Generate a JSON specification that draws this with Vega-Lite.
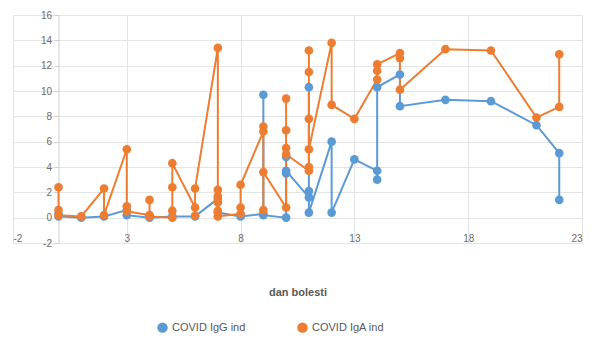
{
  "$schema": "https://vega.github.io/schema/vega-lite/v6.json",
  "autosize": "none",
  "width": 569,
  "height": 228,
  "padding": {"left": 13, "top": 15, "right": 14, "bottom": 104},
  "background": "white",
  "config": {
    "font": "Liberation Sans",
    "view": {"stroke": null}
  },
  "data": {
    "values": [
      {"s": "COVID IgG ind", "i": 1, "x": 0, "y": 0.3},
      {"s": "COVID IgG ind", "i": 2, "x": 0, "y": 0.1},
      {"s": "COVID IgG ind", "i": 3, "x": 1, "y": 0.0},
      {"s": "COVID IgG ind", "i": 4, "x": 2, "y": 0.1},
      {"s": "COVID IgG ind", "i": 5, "x": 3, "y": 0.6},
      {"s": "COVID IgG ind", "i": 6, "x": 3, "y": 0.2},
      {"s": "COVID IgG ind", "i": 7, "x": 4, "y": 0.0},
      {"s": "COVID IgG ind", "i": 8, "x": 5, "y": 0.1},
      {"s": "COVID IgG ind", "i": 9, "x": 6, "y": 0.1},
      {"s": "COVID IgG ind", "i": 10, "x": 7, "y": 1.5},
      {"s": "COVID IgG ind", "i": 11, "x": 7, "y": 0.4},
      {"s": "COVID IgG ind", "i": 12, "x": 8, "y": 0.1},
      {"s": "COVID IgG ind", "i": 13, "x": 9, "y": 0.3},
      {"s": "COVID IgG ind", "i": 14, "x": 9, "y": 9.7},
      {"s": "COVID IgG ind", "i": 15, "x": 9, "y": 0.2},
      {"s": "COVID IgG ind", "i": 16, "x": 10, "y": 0.0},
      {"s": "COVID IgG ind", "i": 17, "x": 10, "y": 4.8},
      {"s": "COVID IgG ind", "i": 18, "x": 10, "y": 3.5},
      {"s": "COVID IgG ind", "i": 19, "x": 10, "y": 3.7},
      {"s": "COVID IgG ind", "i": 20, "x": 11, "y": 1.6},
      {"s": "COVID IgG ind", "i": 21, "x": 11, "y": 2.1},
      {"s": "COVID IgG ind", "i": 22, "x": 11, "y": 10.3},
      {"s": "COVID IgG ind", "i": 23, "x": 11, "y": 0.4},
      {"s": "COVID IgG ind", "i": 24, "x": 12, "y": 6.0},
      {"s": "COVID IgG ind", "i": 25, "x": 12, "y": 0.4},
      {"s": "COVID IgG ind", "i": 26, "x": 13, "y": 4.6},
      {"s": "COVID IgG ind", "i": 27, "x": 14, "y": 3.7},
      {"s": "COVID IgG ind", "i": 28, "x": 14, "y": 3.0},
      {"s": "COVID IgG ind", "i": 29, "x": 14, "y": 10.3},
      {"s": "COVID IgG ind", "i": 30, "x": 15, "y": 11.3},
      {"s": "COVID IgG ind", "i": 31, "x": 15, "y": 8.8},
      {"s": "COVID IgG ind", "i": 32, "x": 17, "y": 9.3},
      {"s": "COVID IgG ind", "i": 33, "x": 19, "y": 9.2},
      {"s": "COVID IgG ind", "i": 34, "x": 21, "y": 7.3},
      {"s": "COVID IgG ind", "i": 35, "x": 22, "y": 5.1},
      {"s": "COVID IgG ind", "i": 36, "x": 22, "y": 1.4},
      {"s": "COVID IgA ind", "i": 1, "x": 0, "y": 2.4},
      {"s": "COVID IgA ind", "i": 2, "x": 0, "y": 0.6},
      {"s": "COVID IgA ind", "i": 3, "x": 0, "y": 0.2},
      {"s": "COVID IgA ind", "i": 4, "x": 1, "y": 0.1},
      {"s": "COVID IgA ind", "i": 5, "x": 2, "y": 2.3},
      {"s": "COVID IgA ind", "i": 6, "x": 2, "y": 0.2},
      {"s": "COVID IgA ind", "i": 7, "x": 3, "y": 5.4},
      {"s": "COVID IgA ind", "i": 8, "x": 3, "y": 0.9},
      {"s": "COVID IgA ind", "i": 9, "x": 3, "y": 0.5},
      {"s": "COVID IgA ind", "i": 10, "x": 4, "y": 0.2},
      {"s": "COVID IgA ind", "i": 11, "x": 4, "y": 1.4},
      {"s": "COVID IgA ind", "i": 12, "x": 4, "y": 0.1},
      {"s": "COVID IgA ind", "i": 13, "x": 5, "y": 0.0},
      {"s": "COVID IgA ind", "i": 14, "x": 5, "y": 0.55},
      {"s": "COVID IgA ind", "i": 15, "x": 5, "y": 2.4},
      {"s": "COVID IgA ind", "i": 16, "x": 5, "y": 4.3},
      {"s": "COVID IgA ind", "i": 17, "x": 6, "y": 0.8},
      {"s": "COVID IgA ind", "i": 18, "x": 6, "y": 0.15},
      {"s": "COVID IgA ind", "i": 19, "x": 6, "y": 2.3},
      {"s": "COVID IgA ind", "i": 20, "x": 7, "y": 13.4},
      {"s": "COVID IgA ind", "i": 21, "x": 7, "y": 2.2},
      {"s": "COVID IgA ind", "i": 22, "x": 7, "y": 1.7},
      {"s": "COVID IgA ind", "i": 23, "x": 7, "y": 1.2},
      {"s": "COVID IgA ind", "i": 24, "x": 7, "y": 0.55},
      {"s": "COVID IgA ind", "i": 25, "x": 7, "y": 0.1},
      {"s": "COVID IgA ind", "i": 26, "x": 8, "y": 0.3},
      {"s": "COVID IgA ind", "i": 27, "x": 8, "y": 0.8},
      {"s": "COVID IgA ind", "i": 28, "x": 8, "y": 2.6},
      {"s": "COVID IgA ind", "i": 29, "x": 9, "y": 6.8},
      {"s": "COVID IgA ind", "i": 30, "x": 9, "y": 7.2},
      {"s": "COVID IgA ind", "i": 31, "x": 9, "y": 0.6},
      {"s": "COVID IgA ind", "i": 32, "x": 9, "y": 3.6},
      {"s": "COVID IgA ind", "i": 33, "x": 10, "y": 0.8},
      {"s": "COVID IgA ind", "i": 34, "x": 10, "y": 9.4},
      {"s": "COVID IgA ind", "i": 35, "x": 10, "y": 6.9},
      {"s": "COVID IgA ind", "i": 36, "x": 10, "y": 5.5},
      {"s": "COVID IgA ind", "i": 37, "x": 10, "y": 5.0},
      {"s": "COVID IgA ind", "i": 38, "x": 11, "y": 3.7},
      {"s": "COVID IgA ind", "i": 39, "x": 11, "y": 4.0},
      {"s": "COVID IgA ind", "i": 40, "x": 11, "y": 13.2},
      {"s": "COVID IgA ind", "i": 41, "x": 11, "y": 11.5},
      {"s": "COVID IgA ind", "i": 42, "x": 11, "y": 7.8},
      {"s": "COVID IgA ind", "i": 43, "x": 11, "y": 5.4},
      {"s": "COVID IgA ind", "i": 44, "x": 12, "y": 13.8},
      {"s": "COVID IgA ind", "i": 45, "x": 12, "y": 8.9},
      {"s": "COVID IgA ind", "i": 46, "x": 13, "y": 7.8},
      {"s": "COVID IgA ind", "i": 47, "x": 14, "y": 10.9},
      {"s": "COVID IgA ind", "i": 48, "x": 14, "y": 11.6},
      {"s": "COVID IgA ind", "i": 49, "x": 14, "y": 12.1},
      {"s": "COVID IgA ind", "i": 50, "x": 15, "y": 13.0},
      {"s": "COVID IgA ind", "i": 51, "x": 15, "y": 12.6},
      {"s": "COVID IgA ind", "i": 52, "x": 15, "y": 10.1},
      {"s": "COVID IgA ind", "i": 53, "x": 17, "y": 13.3},
      {"s": "COVID IgA ind", "i": 54, "x": 19, "y": 13.2},
      {"s": "COVID IgA ind", "i": 55, "x": 21, "y": 7.9},
      {"s": "COVID IgA ind", "i": 56, "x": 22, "y": 8.75},
      {"s": "COVID IgA ind", "i": 57, "x": 22, "y": 12.9}
    ]
  },
  "mark": {"type": "line", "strokeWidth": 2, "point": {"filled": true, "size": 75, "opacity": 1}},
  "encoding": {
    "x": {
      "field": "x", "type": "quantitative",
      "scale": {"domain": [-2, 23], "nice": false, "zero": false},
      "axis": {
        "values": [-2, 3, 8, 13, 18, 23],
        "labelExpr": "replace(datum.label, '\u2212', '-')",
        "title": "dan bolesti",
        "titleFontSize": 11, "titleFontWeight": "bold", "titleColor": "#595959",
        "titlePadding": 43,
        "labelFontSize": 10, "labelColor": "#6b6b6b", "labelPadding": 0,
        "offset": -10,
        "domain": false, "ticks": false,
        "grid": true, "gridColor": "#e4e4e4", "gridWidth": 1
      }
    },
    "y": {
      "field": "y", "type": "quantitative",
      "scale": {"domain": [-2, 16], "nice": false, "zero": false},
      "axis": {
        "values": [-2, 0, 2, 4, 6, 8, 10, 12, 14, 16],
        "labelExpr": "replace(datum.label, '\u2212', '-')",
        "title": null,
        "labelFontSize": 10, "labelColor": "#6b6b6b", "labelPadding": 3,
        "offset": -45.5,
        "domain": true, "domainColor": "#cfcfcf",
        "ticks": true, "tickSize": 4, "tickColor": "#cfcfcf",
        "grid": true, "gridColor": "#e4e4e4", "gridWidth": 1
      }
    },
    "color": {
      "field": "s", "type": "nominal",
      "scale": {"domain": ["COVID IgG ind", "COVID IgA ind"], "range": ["#5B9BD5", "#ED7D31"]},
      "legend": {
        "title": null, "orient": "none", "legendX": 144, "legendY": 307,
        "direction": "horizontal", "symbolType": "circle", "symbolSize": 110,
        "symbolStrokeWidth": 0,
        "labelFontSize": 11, "labelColor": "#595959", "columnPadding": 51
      }
    },
    "order": {"field": "i", "type": "quantitative"}
  }
}
